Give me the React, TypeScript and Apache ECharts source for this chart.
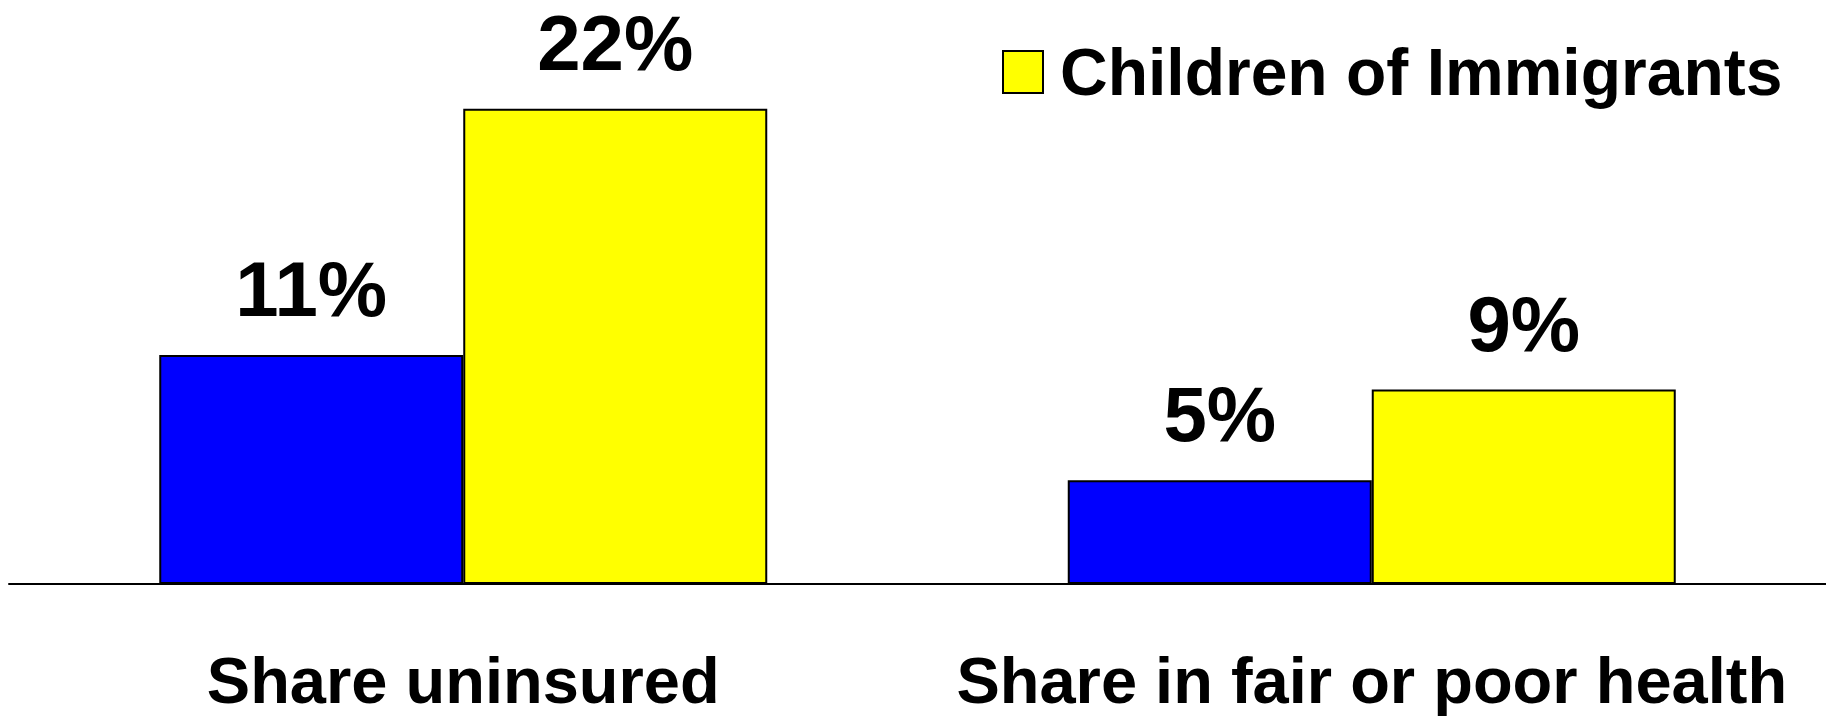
import React, { useEffect, useRef } from "react";
import * as echarts from "echarts";

const categories = ["Share uninsured", "Share in fair or poor health"];
const nativesValues = [10.6, 4.8];
const nativesLabels = ["11%", "5%"];
const immigrantsValues = [22, 9];
const immigrantsLabels = ["22%", "9%"];

const FONT = "'Liberation Sans', Arial, Helvetica, sans-serif";

export default function App() {
  const ref = useRef<HTMLDivElement>(null);
  useEffect(() => {
    const chart = echarts.init(ref.current!, undefined, { renderer: "svg" });
    chart.setOption({
      animation: false,
      backgroundColor: "#ffffff",
      grid: { left: 9, right: 0, top: 44, bottom: 135, containLabel: false },
      legend: {
        data: [{ name: "Children of Immigrants", icon: "rect" }],
        left: 997,
        top: 34,
        itemWidth: 40,
        itemHeight: 42,
        itemGap: 20,
        textStyle: {
          fontFamily: FONT,
          fontWeight: "bold",
          fontSize: 66,
          color: "#000",
          padding: [0, 0, 0, 12],
        },
      },
      xAxis: {
        type: "category",
        data: categories,
        axisLine: { lineStyle: { color: "#000", width: 2 } },
        axisTick: { show: false },
        axisLabel: {
          fontFamily: FONT,
          fontWeight: "bold",
          fontSize: 65,
          lineHeight: 65,
          color: "#000",
          margin: 64,
          interval: 0,
        },
      },
      yAxis: {
        type: "value",
        min: 0,
        max: 25,
        show: false,
        splitLine: { show: false },
      },
      series: [
        {
          name: "Children of Natives",
          type: "bar",
          data: nativesValues,
          barWidth: 304,
          barGap: "0%",
          itemStyle: { color: "#0000FF", borderColor: "#000", borderWidth: 2 },
          label: {
            show: true,
            position: "top",
            distance: 27,
            formatter: (p: any) => nativesLabels[p.dataIndex],
            fontFamily: FONT,
            fontWeight: "bold",
            fontSize: 78,
            color: "#000",
          },
        },
        {
          name: "Children of Immigrants",
          type: "bar",
          data: immigrantsValues,
          barWidth: 304,
          barGap: "0%",
          itemStyle: { color: "#FFFF00", borderColor: "#000", borderWidth: 2 },
          label: {
            show: true,
            position: "top",
            distance: 27,
            formatter: (p: any) => immigrantsLabels[p.dataIndex],
            fontFamily: FONT,
            fontWeight: "bold",
            fontSize: 78,
            color: "#000",
          },
        },
      ],
    });
    return () => chart.dispose();
  }, []);
  return (
    <div
      ref={ref}
      style={{ position: "fixed", left: 0, top: 0, width: 1826, height: 719 }}
    />
  );
}
